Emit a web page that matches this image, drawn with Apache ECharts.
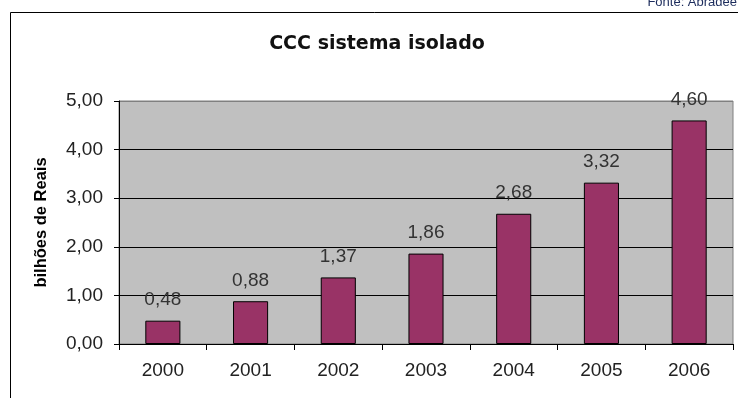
<!DOCTYPE html>
<html><head><meta charset="utf-8">
<script src="https://cdn.jsdelivr.net/npm/echarts@6/dist/echarts.min.js"></script>
<style>html,body{margin:0;padding:0;background:#fff}#c{width:738px;height:398px}</style>
</head><body><div id="c"></div>
<script>
const categories = ['2000','2001','2002','2003','2004','2005','2006'];
const values = [0.48, 0.88, 1.37, 1.86, 2.68, 3.32, 4.60];
const yTicks = [0, 1, 2, 3, 4, 5];
const titleText = 'CCC sistema isolado';
const yName = 'bilhões de Reais';
const sourceText = 'Fonte: Abradee';

const fmt = v => v.toFixed(2).replace('.', ',');
const FONT = '"Liberation Sans", Arial';
const chart = echarts.init(document.getElementById('c'), null, {renderer:'canvas'});
chart.setOption({
  animation: false,
  backgroundColor: '#fff',
  title: {
    text: titleText, left: 372, top: 30, textAlign: 'center',
    textStyle: {fontFamily: 'DejaVu Sans', fontSize: 19, fontWeight: 'bold', color: '#111'}
  },
  graphic: [
    {type:'rect', shape:{x:10.5, y:12.5, width:900, height:600}, style:{fill:'none', stroke:'#000', lineWidth:1}, silent:true},
    {type:'text', x:737, y:-4, style:{text:sourceText, textAlign:'right', fill:'#1c2c5c', font:'13px "Liberation Sans", Arial'}}
  ],
  grid: {left:119, right:5, top:101, bottom:54, show:true, backgroundColor:'#C0C0C0', borderColor:'#808080', borderWidth:1},
  xAxis: {
    type:'category', data: categories,
    axisLine:{lineStyle:{color:'#000', width:1}},
    axisTick:{show:true, length:6, alignWithLabel:false, lineStyle:{color:'#000'}},
    axisLabel:{margin:17, fontSize:19, color:'#222', fontFamily:FONT}
  },
  yAxis: {
    type:'value', min: yTicks[0], max: yTicks[yTicks.length-1], interval: 1,
    name: yName, nameLocation:'middle', nameGap: 69, nameRotate: 90,
    nameTextStyle:{fontFamily:FONT, fontSize:16.5, fontWeight:'bold', color:'#000'},
    axisLine:{show:true, lineStyle:{color:'#000', width:1}},
    axisTick:{show:true, length:5, lineStyle:{color:'#000'}},
    axisLabel:{margin:16, fontSize:19, color:'#222', fontFamily:FONT, formatter: v => fmt(v)},
    splitLine:{show:true, lineStyle:{color:['#000','#000','#000','#000','#000','#808080'], width:1}}
  },
  series: [{
    type:'bar', data: values, barCategoryGap:'60%',
    itemStyle:{color:'#993366', borderColor:'#000', borderWidth:1},
    label:{show:true, position:'top', distance:11, fontSize:19, color:'#333', fontFamily:FONT, formatter: p => fmt(p.value)}
  }]
});
</script></body></html>
